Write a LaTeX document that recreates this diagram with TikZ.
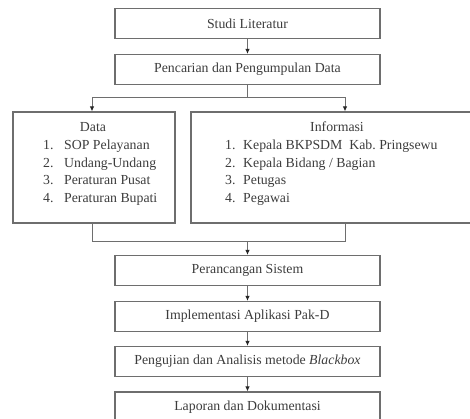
\documentclass[tikz,border=0pt]{standalone}
\usepackage{fontspec}
\setmainfont{Liberation Serif}
\usetikzlibrary{arrows.meta,calc}
\definecolor{linegray}{RGB}{110,110,110}
\definecolor{textgray}{RGB}{60,60,60}
\begin{document}
\begin{tikzpicture}[x=1pt,y=-1pt,
  box/.style={draw=linegray, line width=1.1pt, minimum width=265pt, minimum height=30pt,
    inner sep=0pt, font=\fontsize{13.8}{17.5}\selectfont, text=textgray},
  txt/.style={inner sep=0pt, font=\fontsize{13.8}{17.5}\selectfont, text=textgray},
  conn/.style={draw=linegray, line width=1pt},
  arr/.style={conn, -{Latex[length=5pt,width=4.5pt,color=black!85]}}]
\useasboundingbox (0,0) rectangle (470,419);
\clip (0,0) rectangle (470,419);

\node[box] (studi) at (247.5,23.5) {Studi Literatur};
\node[box] (cari) at (247.5,69.5) {Pencarian dan Pengumpulan Data};
\node[box, minimum width=162pt, minimum height=111pt] (data) at (94,167.5) {};
\node[box, minimum width=293pt, minimum height=111pt] (info) at (337.5,167.5) {};
\node[box] (rancang) at (247.5,270.5) {Perancangan Sistem};
\node[box] (impl) at (247.5,316.5) {Implementasi Aplikasi Pak-D};
\node[box] (uji) at (247.5,361.5) {Pengujian dan Analisis metode \textit{Blackbox}};
\node[box] (lap) at (247.5,407) {Laporan dan Dokumentasi};

\node[txt, anchor=base] (dtitle) at (93,132) {Data};
\node[txt, anchor=base west] (dlist) at (43,150) {%
  \begin{tabular}[t]{@{}p{21pt}@{}l@{}}
  1. & SOP Pelayanan\\
  2. & Undang-Undang\\
  3. & Peraturan Pusat\\
  4. & Peraturan Bupati
  \end{tabular}};
\node[txt, anchor=base] (ititle) at (337,132) {Informasi};
\node[txt, anchor=base west] (ilist) at (225,150) {%
  \begin{tabular}[t]{@{}p{18pt}@{}l@{}}
  1. & Kepala BKPSDM\ \ Kab.\ Pringsewu\\
  2. & Kepala Bidang\ / Bagian\\
  3. & Petugas\\
  4. & Pegawai
  \end{tabular}};

\draw[arr] (studi) -- (cari);
\draw[conn] (cari.south) -- ++(0,12) coordinate (split);
\draw[arr] (split) -| ([xshift=-2pt]data.north);
\draw[arr] (split) -| ([xshift=7.5pt]info.north);
\draw[conn] ([xshift=-2pt]data.south) -- ++(0,18) coordinate (jl) -| ([xshift=7.5pt]info.south);
\draw[arr] (jl -| rancang.north) -- (rancang.north);
\draw[arr] (rancang) -- (impl);
\draw[arr] (impl) -- (uji);
\draw[arr] (uji) -- (lap);
\end{tikzpicture}
\end{document}
